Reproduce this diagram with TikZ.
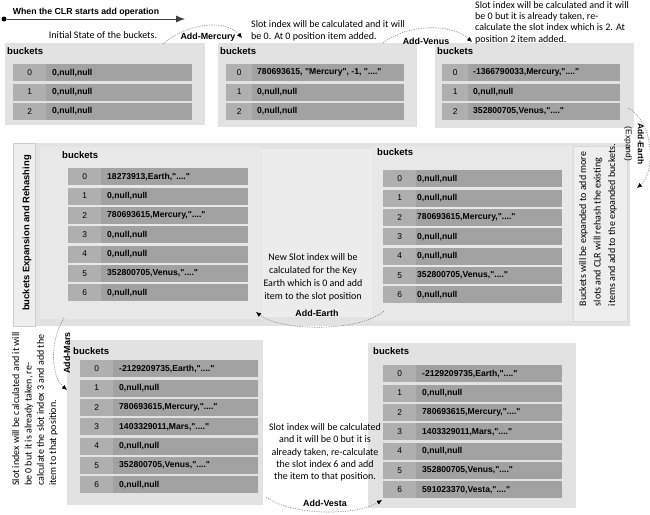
\documentclass[tikz,border=0pt]{standalone}
\usepackage{fontspec}
\setmainfont{Carlito}
\newfontfamily\hdfont{Liberation Sans}
\usetikzlibrary{arrows.meta}
\definecolor{panelgray}{HTML}{E2E2E2}
\definecolor{lightgray}{HTML}{ECECEC}
\definecolor{rowgray}{HTML}{A2A2A2}
\definecolor{idxgray}{HTML}{AFAFAF}
\definecolor{linkgray}{HTML}{8A8A8A}
\tikzset{
  panel/.style={fill=panelgray, draw=none, anchor=north west, inner sep=0pt},
  subpanel/.style={fill=lightgray, draw=none, anchor=north west, inner sep=0pt},
  rowbox/.style={fill=rowgray, draw=none, anchor=north west, inner sep=0pt, minimum height=17pt},
  idxbox/.style={fill=idxgray, draw=none, anchor=north west, inner sep=0pt, minimum height=17pt, font=\hdfont\fontsize{8.4}{9}\selectfont},
  valtxt/.style={anchor=west, inner sep=0pt, font=\hdfont\bfseries\fontsize{8.6}{9}\selectfont},
  bktitle/.style={anchor=north west, inner sep=0pt, font=\hdfont\bfseries\fontsize{9.5}{11}\selectfont},
  lbl/.style={inner sep=0pt, font=\fontsize{10}{12.2}\selectfont},
  blbl/.style={inner sep=0pt, font=\hdfont\bfseries\fontsize{8.9}{10}\selectfont},
  link/.style={draw=linkgray, line width=0.6pt, dash pattern=on 1.2pt off 1.2pt, -{Latex[length=5pt,width=4.5pt,black]}},
}
\def\voff{39}
\def\iw{33}
% name, x, y0, width, index, text
\newcommand\brow[6]{%
  \node[rowbox, minimum width=#4pt] (#1-#5) at (#2,#3+#5*19.35) {};
  \node[idxbox, minimum width=\iw pt] (#1-#5-i) at (#2,#3+#5*19.35) {#5};
  \node[valtxt] (#1-#5-v) at ([xshift=\voff pt]#1-#5.west) {#6};
}
\newcommand\qd{"...."}
\begin{document}
\begin{tikzpicture}[x=1pt,y=-1pt]
\useasboundingbox[fill=white] (0,0) rectangle (650,514);

% title arrow
\node[fill=black, circle, inner sep=0pt, minimum size=5pt] (start) at (4,19) {};
\coordinate (startend) at (185,19);
\draw[line width=0.9pt, draw=black!75, -{Latex[length=9pt,width=7pt]}] (start) -- (startend);
\node[blbl, font=\hdfont\bfseries\fontsize{8.75}{10}\selectfont] (title) at (86,12.5) {When the CLR starts add operation};

% ---------- top panels
\node[panel, minimum width=200pt, minimum height=82pt] (p1) at (5,43) {};
\node[panel, minimum width=199pt, minimum height=84pt] (p2) at (218,43) {};
\node[panel, minimum width=199pt, minimum height=85pt] (p3) at (435,43) {};
\node[bktitle] (p1t) at (7,47) {buckets};
\node[bktitle] (p2t) at (220,47) {buckets};
\node[bktitle] (p3t) at (437,47) {buckets};
\brow{a}{13}{64}{179}{0}{0,null,null}
\brow{a}{13}{64}{179}{1}{0,null,null}
\brow{a}{13}{64}{179}{2}{0,null,null}
\def\voff{31}\def\iw{26}
\brow{b}{226}{64}{178}{0}{780693615, "Mercury", -1, \qd}
\brow{b}{226}{64}{178}{1}{0,null,null}
\brow{b}{226}{64}{178}{2}{0,null,null}
\brow{c}{442}{64}{178}{0}{-1366790033,Mercury,\qd}
\brow{c}{442}{64}{178}{1}{0,null,null}
\brow{c}{442}{64}{178}{2}{352800705,Venus,\qd}
\def\voff{39}\def\iw{33}

\node[lbl] (t1) at (103,35) {Initial State of the buckets.};
\node[lbl, anchor=north west, align=left] (t2) at (251,20) {Slot index will be calculated and it will\\be 0. At 0 position item added.};
\node[lbl, anchor=north west, align=left, font=\fontsize{10}{11.3}\selectfont] (t3) at (475,1.2) {Slot index will be calculated and it will\\be 0 but it is already taken, re-\\calculate the slot index which is 2. At\\position 2 item added.};

\node[blbl] (lm) at (208,37) {Add-Mercury};
\coordinate (m1) at (163,44);
\coordinate (m2) at (242,38);
\draw[link] (m1) .. controls (185,24) and (225,18) .. (m2);

\node[blbl] (lv) at (426,41) {Add-Venus};
\coordinate (v1) at (383,43);
\coordinate (v2) at (472,42);
\draw[link] (v1) .. controls (405,25) and (450,22) .. (v2);

% ---------- middle panel
\node[panel, minimum width=617pt, minimum height=183pt] (mid) at (13,143) {};
\node[subpanel, fill=panelgray!60!white, minimum width=22pt, minimum height=183pt, draw=black!20] (tab) at (13,143) {};
\node[subpanel, fill=panelgray!80!white, minimum width=222pt, minimum height=172pt] (ml) at (40,147) {};
\node[subpanel, fill=panelgray!65!white, minimum width=111pt, minimum height=168pt] (mc) at (262,149) {};
\node[subpanel, fill=panelgray!80!white, minimum width=198pt, minimum height=175pt] (mr) at (374,146) {};
\node[subpanel, fill=panelgray!60!white, minimum width=54pt, minimum height=175pt, draw=black!15] (mt) at (573,146) {};
\node[blbl, rotate=90, font=\hdfont\bfseries\fontsize{9.4}{11}\selectfont] (mtitle) at (27,233) {buckets Expansion and Rehashing};
\node[bktitle] (mlt) at (62,151) {buckets};
\node[bktitle] (mrt) at (377,148) {buckets};
\brow{d}{68}{168}{180}{0}{18273913,Earth,\qd}
\brow{d}{68}{168}{180}{1}{0,null,null}
\brow{d}{68}{168}{180}{2}{780693615,Mercury,\qd}
\brow{d}{68}{168}{180}{3}{0,null,null}
\brow{d}{68}{168}{180}{4}{0,null,null}
\brow{d}{68}{168}{180}{5}{352800705,Venus,\qd}
\brow{d}{68}{168}{180}{6}{0,null,null}
\def\voff{34}
\brow{e}{383}{170}{179}{0}{0,null,null}
\brow{e}{383}{170}{179}{1}{0,null,null}
\brow{e}{383}{170}{179}{2}{780693615,Mercury,\qd}
\brow{e}{383}{170}{179}{3}{0,null,null}
\brow{e}{383}{170}{179}{4}{0,null,null}
\brow{e}{383}{170}{179}{5}{352800705,Venus,\qd}
\brow{e}{383}{170}{179}{6}{0,null,null}
\def\voff{39}
\node[lbl, rotate=90, align=left, font=\fontsize{10}{14.5}\selectfont] (mtext) at (598,225) {Buckets will be expanded to add more\\slots and CLR will rehash the existing\\items and add to the expanded buckets.};
\node[lbl, align=center, font=\fontsize{10}{13}\selectfont] (ntext) at (313,277.5) {New Slot index will be\\calculated for the Key\\Earth which is 0 and add\\item to the slot position};
\node[blbl] (lae) at (317,313) {Add-Earth};
\coordinate (a1) at (384,311);
\coordinate (a2) at (256,312);
\draw[link] (a1) .. controls (360,332) and (282,332) .. (a2);

\node[blbl, rotate=-90, align=center, font=\hdfont\fontsize{8.4}{12}\selectfont] (le) at (634,144) {\textbf{Add-Earth}\\(Expand)};
\coordinate (e1) at (628,108);
\coordinate (e2) at (637,188);
\draw[link] (e1) .. controls (654,122) and (656,172) .. (e2);

% ---------- bottom panels
\node[panel, minimum width=196pt, minimum height=165pt] (bl) at (67,340) {};
\node[panel, minimum width=208pt, minimum height=165pt] (br) at (368,343) {};
\node[bktitle] (blt) at (73,347) {buckets};
\node[bktitle] (brt) at (373,347) {buckets};
\brow{f}{80}{360}{178}{0}{-2129209735,Earth,\qd}
\brow{f}{80}{360}{178}{1}{0,null,null}
\brow{f}{80}{360}{178}{2}{780693615,Mercury,\qd}
\brow{f}{80}{360}{178}{3}{1403329011,Mars,\qd}
\brow{f}{80}{360}{178}{4}{0,null,null}
\brow{f}{80}{360}{178}{5}{352800705,Venus,\qd}
\brow{f}{80}{360}{178}{6}{0,null,null}
\brow{g}{383}{365}{179}{0}{-2129209735,Earth,\qd}
\brow{g}{383}{365}{179}{1}{0,null,null}
\brow{g}{383}{365}{179}{2}{780693615,Mercury,\qd}
\brow{g}{383}{365}{179}{3}{1403329011,Mars,\qd}
\brow{g}{383}{365}{179}{4}{0,null,null}
\brow{g}{383}{365}{179}{5}{352800705,Venus,\qd}
\brow{g}{383}{365}{179}{6}{591023370,Vesta,\qd}

\node[lbl, rotate=90, align=left, font=\fontsize{10}{12.3}\selectfont] (bltext) at (35,409) {Slot index will be calculated and it will\\be 0 but it is already taken, re-\\calculate the slot index 3 and add the\\item to that position.};
\node[blbl, rotate=90] (lma) at (67,353) {Add-Mars};
\coordinate (r1) at (64,318);
\coordinate (r2) at (67,390);
\draw[link] (r1) .. controls (50,340) and (50,375) .. (r2);

\node[lbl, align=center] (brtext) at (325,452.5) {Slot index will be calculated\\and it will be 0 but it is\\already taken, re-calculate\\the slot index 6 and add\\the item to that position.};
\node[blbl] (lvs) at (325,503) {Add-Vesta};
\coordinate (s1) at (266,497);
\coordinate (s2) at (382,500);
\draw[link] (s1) .. controls (292,516) and (356,516) .. (s2);
\end{tikzpicture}
\end{document}
